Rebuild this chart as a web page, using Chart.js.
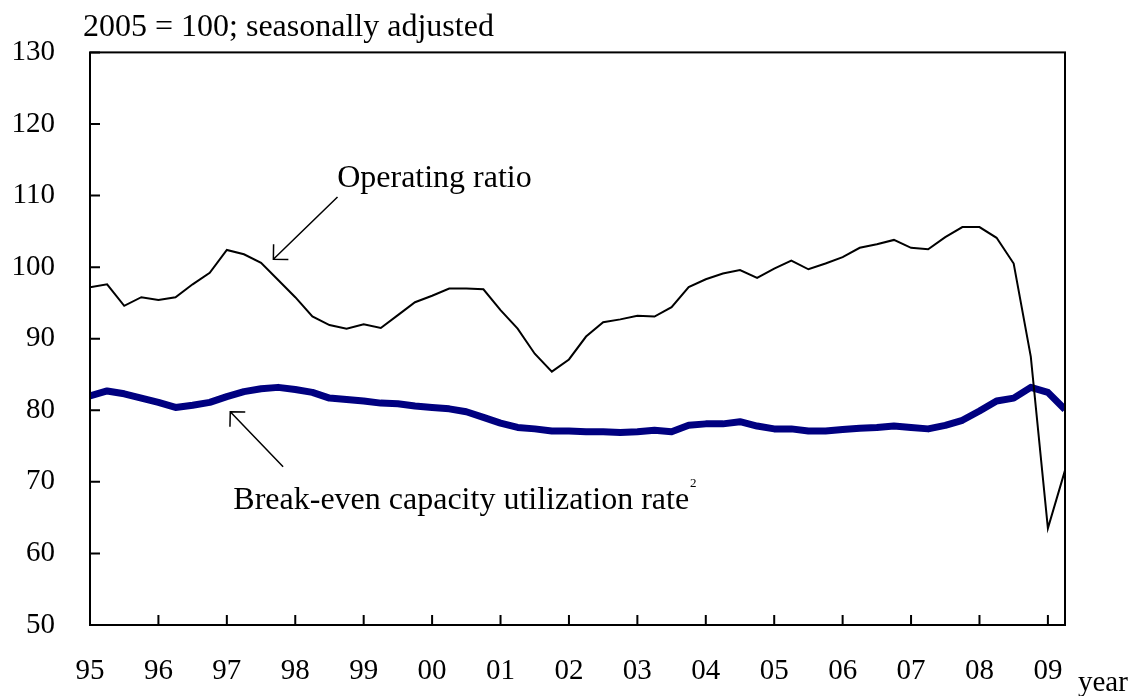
<!DOCTYPE html>
<html>
<head>
<meta charset="utf-8">
<script src="https://cdn.jsdelivr.net/npm/chart.js@4.4.1/dist/chart.umd.min.js"></script>
<style>
  html, body { margin: 0; padding: 0; background: #fff; }
  #wrap { width: 1134px; height: 696px; }
</style>
</head>
<body>
<div id="wrap"><canvas id="chart" width="1134" height="696"></canvas></div>
<script>
// Quarterly data, 1995 Q1 .. 2009 Q2 (58 quarters)
const yearLabels = ['95', '96', '97', '98', '99', '00', '01', '02', '03', '04', '05', '06', '07', '08', '09'];
const yTicks = [50, 60, 70, 80, 90, 100, 110, 120, 130];

const operatingRatio = [
  97.2, 97.6, 94.6, 95.8, 95.4, 95.8, 97.6, 99.2,
  102.4, 101.8, 100.6, 98.2, 95.8, 93.1, 91.9, 91.4,
  92.0, 91.5, 93.3, 95.1, 96.0, 97.0, 97.0, 96.9,
  94.0, 91.4, 87.9, 85.4, 87.1, 90.3, 92.3, 92.7,
  93.2, 93.1, 94.4, 97.2, 98.3, 99.1, 99.6, 98.5,
  99.8, 100.9, 99.7, 100.5, 101.4, 102.7, 103.2, 103.8,
  102.7, 102.5, 104.2, 105.6, 105.6, 104.1, 100.5, 87.5,
  63.5, 71.6
];

const breakEvenRate = [
  82.0, 82.7, 82.3, 81.7, 81.1, 80.4, 80.7, 81.1,
  81.9, 82.6, 83.0, 83.2, 82.9, 82.5, 81.7, 81.5,
  81.3, 81.0, 80.9, 80.6, 80.4, 80.2, 79.8, 79.0,
  78.2, 77.6, 77.4, 77.1, 77.1, 77.0, 77.0, 76.9,
  77.0, 77.2, 77.0, 77.9, 78.1, 78.1, 78.4, 77.8,
  77.4, 77.4, 77.1, 77.1, 77.3, 77.5, 77.6, 77.8,
  77.6, 77.4, 77.9, 78.6, 79.9, 81.3, 81.7, 83.2,
  82.5, 80.1
];

const FONT = "'Liberation Serif', 'Times New Roman', serif";

// annotation anchors in data units (quarter index, value)
const opLabel = { x: 14.45, y: 111.2, text: 'Operating ratio' };
const opArrow = { from: [14.47, 109.8], to: [10.72, 101.1] };
const beLabel = { x: 8.38, y: 66.2, text: 'Break-even capacity utilization rate' };
const beArrow = { from: [11.29, 72.1], to: [8.2, 79.8] };

function drawArrow(ctx, x1, y1, x2, y2) {
  const ang = Math.atan2(y1 - y2, x1 - x2);
  const len = 15;
  ctx.beginPath();
  ctx.moveTo(x1, y1);
  ctx.lineTo(x2, y2);
  ctx.moveTo(x2 + len * Math.cos(ang - Math.PI / 4), y2 + len * Math.sin(ang - Math.PI / 4));
  ctx.lineTo(x2, y2);
  ctx.lineTo(x2 + len * Math.cos(ang + Math.PI / 4), y2 + len * Math.sin(ang + Math.PI / 4));
  ctx.stroke();
}

// frame, inward ticks, annotations
const decorPlugin = {
  id: 'decor',
  afterDatasetsDraw(chart) {
    const { ctx, chartArea: a, scales: { x, y } } = chart;
    ctx.save();
    ctx.strokeStyle = '#000';
    ctx.lineWidth = 2;
    ctx.strokeRect(a.left, a.top, a.right - a.left, a.bottom - a.top);

    ctx.beginPath();
    yTicks.forEach(v => {
      const py = y.getPixelForValue(v);
      ctx.moveTo(a.left, py);
      ctx.lineTo(a.left + 10, py);
    });
    yearLabels.forEach((_, k) => {
      const px = x.getPixelForValue(k * 4);
      ctx.moveTo(px, a.bottom);
      ctx.lineTo(px, a.bottom - 10);
    });
    ctx.stroke();

    // arrows
    ctx.lineWidth = 1.5;
    drawArrow(ctx, x.getPixelForValue(opArrow.from[0]), y.getPixelForValue(opArrow.from[1]),
      x.getPixelForValue(opArrow.to[0]), y.getPixelForValue(opArrow.to[1]));
    drawArrow(ctx, x.getPixelForValue(beArrow.from[0]), y.getPixelForValue(beArrow.from[1]),
      x.getPixelForValue(beArrow.to[0]), y.getPixelForValue(beArrow.to[1]));

    // texts
    ctx.fillStyle = '#000';
    ctx.textAlign = 'left';
    ctx.textBaseline = 'alphabetic';
    ctx.font = '32px ' + FONT;
    ctx.fillText(opLabel.text, x.getPixelForValue(opLabel.x), y.getPixelForValue(opLabel.y));
    const bx = x.getPixelForValue(beLabel.x);
    const by = y.getPixelForValue(beLabel.y);
    ctx.fillText(beLabel.text, bx, by);
    const w = ctx.measureText(beLabel.text).width;
    ctx.font = '13px ' + FONT;
    ctx.fillText('2', bx + w + 1, by - 22);

    ctx.font = '32px ' + FONT;
    ctx.fillText('2005 = 100; seasonally adjusted', a.left - 7, a.top - 16);
    ctx.font = '29px ' + FONT;
    ctx.fillText('year', a.right + 13, a.bottom + 66);
    ctx.restore();
  }
};

const ctx = document.getElementById('chart');
new Chart(ctx, {
  type: 'line',
  data: {
    datasets: [
      {
        label: 'Operating ratio',
        data: operatingRatio.map((v, i) => ({ x: i, y: v })),
        borderColor: '#000000',
        borderWidth: 2,
        pointRadius: 0,
        tension: 0,
        clip: 0
      },
      {
        label: 'Break-even capacity utilization rate',
        data: breakEvenRate.map((v, i) => ({ x: i, y: v })),
        borderColor: '#000080',
        borderWidth: 7,
        pointRadius: 0,
        tension: 0,
        borderJoinStyle: 'round',
        clip: 0
      }
    ]
  },
  options: {
    responsive: false,
    animation: false,
    events: [],
    layout: { padding: { top: 52, right: 69, bottom: 0, left: 0 } },
    plugins: {
      legend: { display: false },
      title: { display: false },
      tooltip: { enabled: false }
    },
    scales: {
      x: {
        type: 'linear',
        min: 0,
        max: operatingRatio.length - 1,
        afterBuildTicks: s => { s.ticks = yearLabels.map((_, k) => ({ value: k * 4 })); },
        afterFit: s => { s.height = 71; },
        grid: { display: false, drawTicks: false },
        border: { display: false },
        ticks: {
          autoSkip: false,
          maxRotation: 0,
          padding: 29,
          color: '#000',
          font: { family: FONT, size: 29 },
          callback: (v) => yearLabels[Math.round(v / 4)]
        }
      },
      y: {
        min: 50,
        max: 130,
        afterBuildTicks: s => { s.ticks = yTicks.map(v => ({ value: v })); },
        afterFit: s => { s.width = 90; },
        grid: { display: false, drawTicks: false },
        border: { display: false },
        ticks: {
          padding: 35,
          color: '#000',
          font: { family: FONT, size: 29 }
        }
      }
    }
  },
  plugins: [decorPlugin]
});
</script>
</body>
</html>
